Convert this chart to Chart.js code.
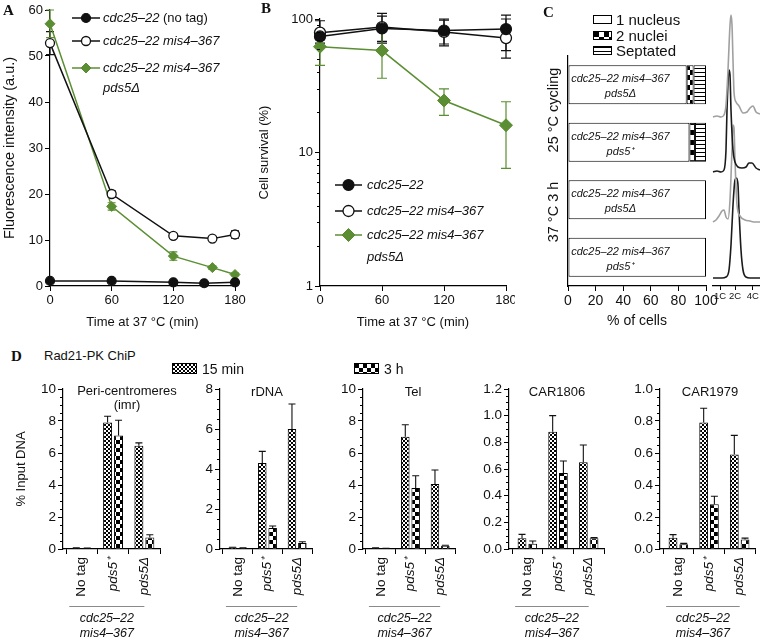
<!DOCTYPE html>
<html>
<head>
<meta charset="utf-8">
<script src="https://cdn.jsdelivr.net/npm/chart.js@4.4.1/dist/chart.umd.min.js"></script>
<style>
  body { margin: 0; background: #fff; }
  #fig { position: relative; width: 760px; height: 640px; overflow: hidden; font-family: "Liberation Sans", Arial, sans-serif; color: #111; }
  #fig canvas { position: absolute; }
  .t { position: absolute; white-space: nowrap; }
  .letter { font-family: "Liberation Serif", "Times New Roman", serif; font-weight: bold; font-size: 15px; line-height: 15px; }
  .rot { transform: translate(-50%, -50%) rotate(-90deg); }
  .sw { position: absolute; border: 1px solid #000; box-sizing: border-box; }
</style>
</head>
<body>
<div id="fig">
  <canvas id="chartA" width="250" height="330" style="left:0;top:0"></canvas>
  <canvas id="chartB" width="265" height="330" style="left:250px;top:0"></canvas>
  <canvas id="chartC" width="185" height="330" style="left:540px;top:0"></canvas>
  <canvas id="chartHist" width="48" height="310" style="left:712px;top:0"></canvas>
  <canvas id="d1" width="200" height="260" style="left:0;top:380px"></canvas>
  <canvas id="d2" width="150" height="260" style="left:165px;top:380px"></canvas>
  <canvas id="d3" width="145" height="260" style="left:315px;top:380px"></canvas>
  <canvas id="d4" width="150" height="260" style="left:460px;top:380px"></canvas>
  <canvas id="d5" width="150" height="260" style="left:610px;top:380px"></canvas>

  <div class="t letter" style="left:3px;top:3px">A</div>
  <div class="t letter" style="left:261px;top:1px">B</div>
  <div class="t letter" style="left:543px;top:5px">C</div>
  <div class="t letter" style="left:11px;top:349px">D</div>
  <div class="t" style="left:44px;top:348px;font-size:13px;line-height:16px">Rad21-PK ChiP</div>

  <div class="sw" id="swOne" style="left:593px;top:15px;width:19px;height:9px"></div>
  <div class="t" style="left:616px;top:11px;font-size:15px;line-height:18px">1 nucleus</div>
  <div class="sw" id="swTwo" style="left:593px;top:31px;width:19px;height:9px"></div>
  <div class="t" style="left:616px;top:27px;font-size:15px;line-height:18px">2 nuclei</div>
  <div class="sw" id="swSep" style="left:593px;top:46px;width:19px;height:9px"></div>
  <div class="t" style="left:616px;top:42px;font-size:15px;line-height:18px">Septated</div>

  <div class="t rot" style="left:553px;top:110px;font-size:14.5px">25 °C cycling</div>
  <div class="t rot" style="left:553px;top:212px;font-size:14.5px">37 °C 3 h</div>

  <div class="sw" id="sw15" style="left:172px;top:363px;width:25px;height:11px"></div>
  <div class="t" style="left:202px;top:361px;font-size:14px;line-height:16px">15 min</div>
  <div class="sw" id="sw3h" style="left:354px;top:363px;width:25px;height:11px"></div>
  <div class="t" style="left:384px;top:361px;font-size:14px;line-height:16px">3 h</div>
</div>

<script>
// ---- data ----
// A: fluorescence intensity
const timesNoTag = [0, 60, 120, 150, 180];
const timesMis4 = [0, 60, 120, 158, 180];
const noTagA = [1.1, 1.1, 0.8, 0.6, 0.8];
const mis4A = [52.8, 20.0, 10.9, 10.3, 11.2];
const mis4ErrA = [2.5, 0.7, 0.5, 0.4, 0.8];
const pds5A = [57.0, 17.3, 6.5, 4.0, 2.5];
const pds5ErrA = [3.0, 0.8, 0.9, 0.4, 0.3];

// B: cell survival (low / high ends of the error bars)
const timesB = [0, 60, 120, 180];
const survCdc = [74, 85, 82, 84];
const survCdcLo = [66, 68, 65, 58];
const survCdcHi = [82, 110, 98, 107];
const survMis4 = [79, 87, 80, 72];
const survMis4Lo = [70, 66, 63, 51];
const survMis4Hi = [97, 105, 100, 100];
const survPds5 = [62, 58, 24.5, 16];
const survPds5Lo = [45, 36, 19, 7.6];
const survPds5Hi = [80, 85, 30, 24];
const logMinor = [2, 3, 4, 5, 6, 7, 8, 9, 20, 30, 40, 50, 60, 70, 80, 90];

// C: nuclei counts
const cRows = ['25 °C pds5Δ', '25 °C pds5⁺', '37 °C pds5Δ', '37 °C pds5⁺'];
const cLine1 = ['cdc25–22 mis4–367', 'cdc25–22 mis4–367', 'cdc25–22 mis4–367', 'cdc25–22 mis4–367'];
const cLine2 = ['pds5Δ', 'pds5⁺', 'pds5Δ', 'pds5⁺'];
const oneNucleus = [86, 88, 100, 100];
const twoNuclei = [5, 4, 0, 0];
const septated = [9, 8, 0, 0];

// C: FACS profiles (channel, counts) and their stacking offsets
const histTicks = [8, 23, 40.7];
const histTickLabels = ['1C', '2C', '4C'];
const histCh1 = [1, 5, 9, 12, 14, 16, 18, 19, 20, 21, 22, 24, 27, 31, 35, 38, 41, 44, 48];
const histCt1 = [0, 1, 0, 2, 12, 47, 92, 102, 92, 57, 25, 15, 11, 4, 5, 9, 11, 5, 3];
const histCh2 = [1, 5, 9, 12, 14, 15, 17, 18, 19, 21, 23, 26, 30, 34, 37, 40, 44, 48];
const histCt2 = [0, 1, 0, 2, 22, 62, 102, 97, 62, 22, 10, 5, 4, 5, 9, 9, 4, 2];
const histCh3 = [1, 4, 7, 10, 12, 14, 16, 18, 20, 21, 22, 23, 25, 28, 33, 38, 43, 48];
const histCt3 = [0, 2, 6, 11, 12, 5, 3, 22, 72, 97, 94, 62, 17, 6, 2, 1, 0, 0];
const histCh4 = [1, 6, 10, 14, 17, 19, 21, 23, 24.5, 26, 27, 29, 31, 34, 38, 43, 48];
const histCt4 = [0, 0, 0, 1, 8, 33, 73, 98, 100, 93, 68, 28, 8, 1, 0, 0, 0];
const histOffset = [169, 114, 64, 8];

// D: ChIP, % input DNA (15 min and 3 h, with SD)
const groups = ['No tag', 'pds5⁺', 'pds5Δ'];
const periMin15 = [0.05, 7.9, 6.45];
const periMin15Err = [0.02, 0.4, 0.18];
const periH3 = [0.04, 7.1, 0.72];
const periH3Err = [0.02, 0.95, 0.17];
const rdnaMin15 = [0.07, 4.3, 6.0];
const rdnaMin15Err = [0.02, 0.58, 1.25];
const rdnaH3 = [0.05, 1.05, 0.3];
const rdnaH3Err = [0.01, 0.1, 0.06];
const telMin15 = [0.05, 7.02, 4.06];
const telMin15Err = [0.02, 0.75, 0.88];
const telH3 = [0.04, 3.81, 0.2];
const telH3Err = [0.01, 0.77, 0.03];
const car1806Min15 = [0.08, 0.88, 0.65];
const car1806Min15Err = [0.03, 0.12, 0.13];
const car1806H3 = [0.04, 0.57, 0.08];
const car1806H3Err = [0.02, 0.09, 0.005];
const car1979Min15 = [0.07, 0.79, 0.59];
const car1979Min15Err = [0.02, 0.09, 0.12];
const car1979H3 = [0.03, 0.28, 0.06];
const car1979H3Err = [0.005, 0.05, 0.008];

// ---- style helpers ----
const FONT = '"Liberation Sans", Arial, Helvetica, sans-serif';
const GREEN = '#5b8e32';
Chart.defaults.font.family = FONT;
Chart.defaults.font.size = 13;
Chart.defaults.color = '#111';
Chart.defaults.animation = false;
Chart.defaults.responsive = false;
Chart.defaults.devicePixelRatio = 1;
Chart.defaults.plugins.legend.display = false;
Chart.defaults.plugins.tooltip.enabled = false;

function tile(kind) {
  const c = document.createElement('canvas');
  const g = c.getContext('2d');
  const n = { fine: 4, coarse: 8, coarse5: 10, stripes: 4 }[kind];
  c.width = c.height = n;
  g.fillStyle = '#fff';
  g.fillRect(0, 0, n, n);
  g.fillStyle = '#000';
  if (kind === 'stripes') {
    g.fillRect(0, 0, n, 1);
  } else {
    const h = n / 2;
    g.fillRect(0, 0, h, h);
    g.fillRect(h, h, h, h);
  }
  return c;
}
const tiles = { fine: tile('fine'), coarse: tile('coarse'), coarse5: tile('coarse5'), stripes: tile('stripes') };
const pat = k => document.createElement('canvas').getContext('2d').createPattern(tiles[k], 'repeat');
const swatch = (id, k) => { document.getElementById(id).style.background = k ? `url(${tiles[k].toDataURL()})` : '#fff'; };
swatch('swOne', null);
swatch('swTwo', 'coarse5');
swatch('swSep', 'stripes');
swatch('sw15', 'fine');
swatch('sw3h', 'coarse');

// fix the box size of a scale so the plot area lands where it should
function fix(s, dim, size) {
  if (dim === 'w') s.width = size; else s.height = size;
  s.paddingLeft = s.paddingRight = s.paddingTop = s.paddingBottom = 0;
}

function ax(o) {
  return {
    ...o,
    grid: { drawOnChartArea: false, color: '#000', tickLength: 5, lineWidth: 1, ...(o.grid || {}) },
    border: { color: '#000', width: 1.2, ...(o.border || {}) },
    ticks: { color: '#111', padding: 2, ...(o.ticks || {}) }
  };
}

const xy = (xs, ys) => xs.map((x, i) => ({ x, y: ys[i] }));

function richText(ctx, str, x, y, size, align) {
  const segs = [];
  let italic = false;
  str.split(/(<\/?i>)/).filter(Boolean).forEach(p => {
    if (p === '<i>') italic = true;
    else if (p === '</i>') italic = false;
    else segs.push([p, italic]);
  });
  const fontOf = it => `${it ? 'italic ' : ''}${size}px ${FONT}`;
  let w = 0;
  segs.forEach(([t, it]) => { ctx.font = fontOf(it); w += ctx.measureText(t).width; });
  let cx = align === 'center' ? x - w / 2 : x;
  ctx.textBaseline = 'middle';
  ctx.textAlign = 'left';
  ctx.fillStyle = '#111';
  segs.forEach(([t, it]) => { ctx.font = fontOf(it); ctx.fillText(t, cx, y); cx += ctx.measureText(t).width; });
}

function marker(ctx, ds, x, y) {
  const r = ds.pointRadius;
  ctx.fillStyle = ds.pointBackgroundColor;
  ctx.strokeStyle = ds.pointBorderColor;
  ctx.lineWidth = ds.pointBorderWidth || 1;
  ctx.beginPath();
  if (ds.pointStyle === 'rectRot') {
    ctx.moveTo(x - r, y); ctx.lineTo(x, y - r); ctx.lineTo(x + r, y); ctx.lineTo(x, y + r); ctx.closePath();
  } else {
    ctx.arc(x, y, r, 0, Math.PI * 2);
  }
  ctx.fill();
  ctx.stroke();
}

// ---- plugins ----
function drawErrors(chart, opts) {
  const ctx = chart.ctx;
  chart.data.datasets.forEach((ds, di) => {
    if (!ds.errHi) return;
    const meta = chart.getDatasetMeta(di);
    const ys = chart.scales[meta.yAxisID];
    const cw = opts.cap || 4;
    ctx.save();
    ctx.strokeStyle = ds.errColor || '#111';
    ctx.lineWidth = opts.width || 1.2;
    meta.data.forEach((el, i) => {
      const x = el.x;
      const yHi = ys.getPixelForValue(ds.errHi[i]);
      const yLo = ys.getPixelForValue(ds.errLo[i]);
      ctx.beginPath();
      ctx.moveTo(x, yLo); ctx.lineTo(x, yHi);
      ctx.moveTo(x - cw, yHi); ctx.lineTo(x + cw, yHi);
      if (opts.lowCap !== false) { ctx.moveTo(x - cw, yLo); ctx.lineTo(x + cw, yLo); }
      ctx.stroke();
    });
    ctx.restore();
  });
}
const errorBars = {
  id: 'errorBars',
  beforeDatasetsDraw(chart, args, opts) { if (opts.layer === 'before') drawErrors(chart, opts); },
  afterDatasetsDraw(chart, args, opts) { if (opts.layer === 'after') drawErrors(chart, opts); }
};

const minorTicks = {
  id: 'minorTicks',
  afterDraw(chart, args, opts) {
    if (!opts.values) return;
    const ys = chart.scales.y, ctx = chart.ctx, x0 = chart.chartArea.left;
    ctx.save();
    ctx.strokeStyle = '#000';
    ctx.lineWidth = 1;
    opts.values.forEach(v => {
      const y = Math.round(ys.getPixelForValue(v)) + 0.5;
      ctx.beginPath(); ctx.moveTo(x0 - (opts.length || 3), y); ctx.lineTo(x0, y); ctx.stroke();
    });
    ctx.restore();
  }
};

const lineLegend = {
  id: 'lineLegend',
  afterDraw(chart, args, opts) {
    if (!opts.rows) return;
    const ctx = chart.ctx;
    chart.data.datasets.forEach((ds, i) => {
      const y = opts.rows[i];
      ctx.save();
      ctx.strokeStyle = ds.borderColor;
      ctx.lineWidth = ds.borderWidth;
      ctx.beginPath(); ctx.moveTo(opts.x1, y); ctx.lineTo(opts.x2, y); ctx.stroke();
      marker(ctx, ds, (opts.x1 + opts.x2) / 2, y);
      ds.label.split('\n').forEach((line, k) => richText(ctx, line, opts.textX, y + k * opts.gap, opts.size));
      ctx.restore();
    });
  }
};

const barText = {
  id: 'barText',
  afterDatasetsDraw(chart, args, opts) {
    if (!opts.line1) return;
    const ctx = chart.ctx;
    const x = chart.scales.x.getPixelForValue(opts.at);
    chart.getDatasetMeta(0).data.forEach((el, i) => {
      richText(ctx, `<i>${opts.line1[i]}</i>`, x, el.y - 5.5, opts.size, 'center');
      richText(ctx, `<i>${opts.line2[i]}</i>`, x, el.y + 9.5, opts.size, 'center');
    });
  }
};

const subAnnot = {
  id: 'subAnnot',
  afterDraw(chart, args, opts) {
    if (!opts.group) return;
    const ctx = chart.ctx, xs = chart.scales.x, b = chart.chartArea.bottom;
    (opts.titles || []).forEach(t => richText(ctx, t.text, t.x, t.y, 13, 'center'));
    const x1 = xs.getPixelForValue(opts.group.from), x2 = xs.getPixelForValue(opts.group.to);
    ctx.save();
    ctx.strokeStyle = '#8a8a8a';
    ctx.lineWidth = 1.2;
    ctx.beginPath(); ctx.moveTo(x1, b + 57.5); ctx.lineTo(x2, b + 57.5); ctx.stroke();
    ctx.restore();
    opts.group.lines.forEach((l, k) => richText(ctx, `<i>${l}</i>`, (x1 + x2) / 2, b + 70 + k * 15, 12.5, 'center'));
  }
};

Chart.register(errorBars, minorTicks, lineLegend, barText, subAnnot);

// ---- A ----
new Chart(document.getElementById('chartA'), {
  type: 'line',
  data: {
    datasets: [
      { label: '<i>cdc25–22</i> (no tag)', data: xy(timesNoTag, noTagA), borderColor: '#111', borderWidth: 1.5,
        pointStyle: 'circle', pointRadius: 4.5, pointBackgroundColor: '#111', pointBorderColor: '#111', pointBorderWidth: 1.2, clip: false },
      { label: '<i>cdc25–22 mis4–367</i>', data: xy(timesMis4, mis4A), borderColor: '#111', borderWidth: 1.5,
        pointStyle: 'circle', pointRadius: 4.5, pointBackgroundColor: '#fff', pointBorderColor: '#111', pointBorderWidth: 1.3, clip: false,
        errLo: mis4A.map((v, i) => v - mis4ErrA[i]), errHi: mis4A.map((v, i) => v + mis4ErrA[i]) },
      { label: '<i>cdc25–22 mis4–367</i>\n<i>pds5Δ</i>', data: xy(timesMis4, pds5A), borderColor: GREEN, borderWidth: 1.5,
        pointStyle: 'rectRot', pointRadius: 5, pointBackgroundColor: GREEN, pointBorderColor: GREEN, pointBorderWidth: 1, clip: false,
        errColor: GREEN, errLo: pds5A.map((v, i) => v - pds5ErrA[i]), errHi: pds5A.map((v, i) => v + pds5ErrA[i]) }
    ]
  },
  options: {
    layout: { padding: { top: 10, right: 15 } },
    scales: {
      x: ax({ type: 'linear', min: 0, max: 180, ticks: { stepSize: 60 },
        title: { display: true, text: 'Time at 37 °C (min)', padding: { top: 0, bottom: 0 } },
        afterFit: s => fix(s, 'h', 44) }),
      y: ax({ type: 'linear', min: 0, max: 60, ticks: { stepSize: 10 },
        title: { display: true, text: 'Fluorescence intensity (a.u.)', font: { size: 14.5 }, padding: { top: 1, bottom: 0 } },
        afterFit: s => fix(s, 'w', 50) })
    },
    plugins: {
      errorBars: { layer: 'before', cap: 4 },
      lineLegend: { x1: 72, x2: 100, textX: 103, rows: [18, 41, 68], gap: 20, size: 13 }
    }
  }
});

// ---- B ----
new Chart(document.getElementById('chartB'), {
  type: 'line',
  data: {
    datasets: [
      { label: '<i>cdc25–22</i>', data: xy(timesB, survCdc), borderColor: '#111', borderWidth: 1.5,
        pointStyle: 'circle', pointRadius: 5.5, pointBackgroundColor: '#111', pointBorderColor: '#111', pointBorderWidth: 1.2, clip: false,
        errLo: survCdcLo, errHi: survCdcHi },
      { label: '<i>cdc25–22 mis4–367</i>', data: xy(timesB, survMis4), borderColor: '#111', borderWidth: 1.5,
        pointStyle: 'circle', pointRadius: 5.5, pointBackgroundColor: '#fff', pointBorderColor: '#111', pointBorderWidth: 1.3, clip: false,
        errLo: survMis4Lo, errHi: survMis4Hi },
      { label: '<i>cdc25–22 mis4–367</i>\n<i>pds5Δ</i>', data: xy(timesB, survPds5), borderColor: GREEN, borderWidth: 1.5,
        pointStyle: 'rectRot', pointRadius: 6.5, pointBackgroundColor: GREEN, pointBorderColor: GREEN, pointBorderWidth: 1, clip: false,
        errColor: GREEN, errLo: survPds5Lo, errHi: survPds5Hi }
    ]
  },
  options: {
    layout: { padding: { top: 19, right: 9 } },
    scales: {
      x: ax({ type: 'linear', min: 0, max: 180, ticks: { stepSize: 60 },
        title: { display: true, text: 'Time at 37 °C (min)', padding: { top: 0, bottom: 0 } },
        afterFit: s => fix(s, 'h', 44) }),
      y: ax({ type: 'logarithmic', min: 1, max: 100, ticks: { callback: v => String(v) },
        afterBuildTicks: s => { s.ticks = [1, 10, 100].map(v => ({ value: v })); },
        title: { display: true, text: 'Cell survival (%)', padding: { top: 7, bottom: 0 } },
        afterFit: s => fix(s, 'w', 70) })
    },
    plugins: {
      errorBars: { layer: 'before', cap: 5 },
      minorTicks: { values: logMinor, length: 3 },
      lineLegend: { x1: 85, x2: 112, textX: 117, rows: [185, 211, 235], gap: 22, size: 13 }
    }
  }
});

// ---- C: stacked bars ----
new Chart(document.getElementById('chartC'), {
  type: 'bar',
  data: {
    labels: cRows,
    datasets: [
      { label: '1 nucleus', data: oneNucleus, backgroundColor: '#fff' },
      { label: '2 nuclei', data: twoNuclei, backgroundColor: pat('coarse5') },
      { label: 'Septated', data: septated, backgroundColor: pat('stripes') }
    ]
  },
  options: {
    indexAxis: 'y',
    layout: { padding: { top: 56, right: 19 } },
    datasets: { bar: { borderColor: '#000', borderWidth: 1, borderSkipped: false, barPercentage: 0.68, categoryPercentage: 1 } },
    scales: {
      x: ax({ type: 'linear', stacked: true, min: 0, max: 100,
        ticks: { stepSize: 20, font: { size: 14 }, autoSkip: false, minRotation: 0, maxRotation: 0 },
        title: { display: true, text: '% of cells', font: { size: 14 }, padding: { top: 0, bottom: 0 } },
        afterFit: s => fix(s, 'h', 44) }),
      y: ax({ stacked: true, ticks: { display: false }, grid: { display: false },
        afterFit: s => fix(s, 'w', 28) })
    },
    plugins: {
      barText: { at: 38, line1: cLine1, line2: cLine2, size: 11 }
    }
  }
});

// ---- C: FACS profiles ----
const traces = [[histCh1, histCt1], [histCh2, histCt2], [histCh3, histCt3], [histCh4, histCt4]];
new Chart(document.getElementById('chartHist'), {
  type: 'line',
  data: {
    datasets: traces.map(([ch, ct], k) => ({
      data: ch.map((c, i) => ({ x: c, y: ct[i] + histOffset[k] })),
      borderColor: k % 2 ? '#1b1b1b' : '#a0a0a0',
      borderWidth: 1.6,
      pointRadius: 0,
      cubicInterpolationMode: 'monotone',
      clip: false
    }))
  },
  options: {
    layout: { padding: { top: 10 } },
    scales: {
      x: ax({ type: 'linear', min: 0, max: 48, grid: { tickLength: 4 },
        ticks: { font: { size: 9.5 }, padding: 1, autoSkip: false, minRotation: 0, maxRotation: 0,
          callback: v => histTickLabels[histTicks.indexOf(v)] },
        afterBuildTicks: s => { s.ticks = histTicks.map(v => ({ value: v })); },
        afterFit: s => fix(s, 'h', 24) }),
      y: { display: false, min: 0, max: 276 }
    }
  }
});

// ---- D ----
const fineFill = pat('fine');
const coarseFill = pat('coarse');
const barSet = (label, vals, errs, fill) => ({
  label,
  data: vals.map((v, i) => ({ x: i, y: v })),
  backgroundColor: fill,
  borderColor: '#000',
  borderWidth: 1,
  errLo: vals,
  errHi: vals.map((v, i) => v + errs[i])
});

const dPlots = [
  { id: 'd1', left: 0, axisX: 63, right: 160, max: 10, step: 2, minor: 0.5, m15: periMin15, m15e: periMin15Err, h3: periH3, h3e: periH3Err,
    titles: [{ text: 'Peri-centromeres', x: 127, y: 391 }, { text: '(imr)', x: 127, y: 405 }], yTitle: true },
  { id: 'd2', left: 165, axisX: 220, right: 312, max: 8, step: 2, minor: 0.5, m15: rdnaMin15, m15e: rdnaMin15Err, h3: rdnaH3, h3e: rdnaH3Err,
    titles: [{ text: 'rDNA', x: 267, y: 392 }] },
  { id: 'd3', left: 315, axisX: 363, right: 455, max: 10, step: 2, minor: 0.5, m15: telMin15, m15e: telMin15Err, h3: telH3, h3e: telH3Err,
    titles: [{ text: 'Tel', x: 413, y: 392 }] },
  { id: 'd4', left: 460, axisX: 509, right: 604, max: 1.2, step: 0.2, minor: 0.05, m15: car1806Min15, m15e: car1806Min15Err, h3: car1806H3, h3e: car1806H3Err,
    titles: [{ text: 'CAR1806', x: 557, y: 392 }] },
  { id: 'd5', left: 610, axisX: 660, right: 755, max: 1.0, step: 0.2, minor: 0.05, m15: car1979Min15, m15e: car1979Min15Err, h3: car1979H3, h3e: car1979H3Err,
    titles: [{ text: 'CAR1979', x: 710, y: 392 }] }
];

dPlots.forEach(p => {
  const canvas = document.getElementById(p.id);
  const minorVals = [];
  const n = Math.round(p.max / p.minor);
  for (let k = 1; k < n; k++) {
    const v = k * p.minor;
    if (Math.abs(v / p.step - Math.round(v / p.step)) > 1e-6) minorVals.push(v);
  }
  new Chart(canvas, {
    type: 'bar',
    data: { datasets: [barSet('15 min', p.m15, p.m15e, fineFill), barSet('3 h', p.h3, p.h3e, coarseFill)] },
    options: {
      layout: { padding: { top: 9, right: canvas.width - (p.right - p.left) } },
      datasets: { bar: { categoryPercentage: 0.7, barPercentage: 0.82 } },
      scales: {
        x: ax({ type: 'linear', min: -0.6, max: 2.5, offset: false,
          ticks: { autoSkip: false, minRotation: 90, maxRotation: 90, padding: 3,
            font: c => ({ size: 13.5, style: c.index === 0 ? 'normal' : 'italic' }),
            callback: v => groups[v] || '' },
          afterBuildTicks: s => { s.ticks = groups.map((g, i) => ({ value: i })); },
          afterFit: s => fix(s, 'h', 91) }),
        y: ax({ type: 'linear', min: 0, max: p.max,
          ticks: { stepSize: p.step, font: { size: 13.5 }, callback: v => (p.step < 1 ? v.toFixed(1) : String(v)) },
          title: { display: !!p.yTitle, text: '% Input DNA', padding: { top: 14, bottom: 0 } },
          afterFit: s => fix(s, 'w', p.axisX - p.left) })
      },
      plugins: {
        errorBars: { layer: 'after', cap: 3.5, lowCap: false, width: 1.1 },
        minorTicks: { values: minorVals, length: 3 },
        subAnnot: {
          titles: p.titles.map(t => ({ text: t.text, x: t.x - p.left, y: t.y - 380 })),
          group: { from: -0.4, to: 2.0, lines: ['cdc25–22', 'mis4–367'] }
        }
      }
    }
  });
});
</script>
</body>
</html>
